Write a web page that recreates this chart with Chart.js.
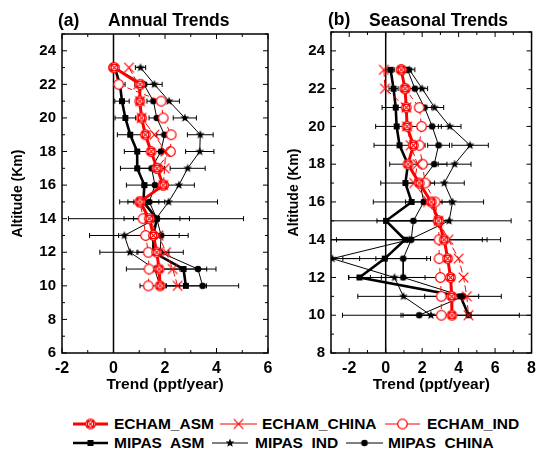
<!DOCTYPE html>
<html><head><meta charset="utf-8">
<script src="https://cdn.jsdelivr.net/npm/chart.js@4/dist/chart.umd.min.js"></script>
<style>
html,body{margin:0;padding:0;background:#fff;}
#wrap{position:relative;width:542px;height:452px;overflow:hidden;font-family:"Liberation Sans",Arial,sans-serif;font-weight:bold;}
.cv{position:absolute;top:0;}
.ttl{position:absolute;font-size:17.5px;font-weight:bold;white-space:pre;line-height:1;}
.lg{position:absolute;font-size:15.5px;font-weight:bold;white-space:pre;line-height:1;}
svg{position:absolute;overflow:visible;}
</style></head>
<body><div id="wrap">
<div class="cv" style="left:0;width:280px;height:400px;"><canvas id="ca"></canvas></div>
<div class="cv" style="left:280px;width:262px;height:400px;"><canvas id="cb"></canvas></div>
<div class="ttl" style="left:58px;top:12px;">(a)</div>
<div class="ttl" style="left:108px;top:12px;">Annual Trends</div>
<div class="ttl" style="left:328px;top:11px;">(b)</div>
<div class="ttl" style="left:369px;top:12px;">Seasonal Trends</div>
<div id="legend"></div>
</div>
<script>
// ---------- DATA ----------
const altitudes = [23,22,21,20,19,18,17,16,15,14,13,12,11,10];

// (a) Annual trends (ppt/year)
const annualEchamAsm   = [0.03,1.03,1.02,1.09,1.24,1.46,1.69,1.93,1.03,1.39,1.55,1.68,1.77,1.81];
const annualEchamChina = [0.60,0.96,1.03,1.09,1.59,2.02,1.99,1.93,1.09,1.39,1.75,2.04,2.30,2.49];
const annualEchamInd   = [0.00,0.20,1.85,1.93,2.24,2.21,1.69,1.93,1.03,1.15,1.25,1.35,1.38,1.35];
const annualMipasAsm   = [0.05,0.25,0.33,0.46,0.65,0.92,0.92,1.20,1.16,1.68,1.55,1.55,2.72,2.81];
const annualMipasInd   = [1.05,1.59,2.16,2.77,3.37,3.35,2.88,2.54,2.14,1.65,0.42,0.64,1.60,1.80];
const annualMipasChina = [0.05,1.18,1.55,1.68,1.98,1.84,1.48,1.61,1.39,1.68,1.85,1.81,3.28,3.46];
const annualMipasAsmErr   = [0.15,0.20,0.28,0.40,0.50,0.50,0.65,0.70,0.60,1.27,1.35,0.60,0.90,0.80];
const annualMipasIndErr   = [0.20,0.30,0.40,0.45,0.50,0.55,0.68,0.60,1.90,3.40,1.35,1.17,1.10,0.77];
const annualMipasChinaErr = [0.15,0.35,0.25,0.30,0.30,0.40,0.50,0.50,0.60,0.90,0.70,0.90,0.70,1.40];

// (b) Seasonal trends (ppt/year)
const seasonalEchamAsm   = [0.85,1.06,1.13,1.17,1.52,1.22,1.84,2.50,2.90,3.21,3.40,3.56,3.62,3.63];
const seasonalEchamChina = [-0.10,-0.04,1.13,1.17,1.37,1.74,1.56,2.32,2.90,3.44,4.00,4.27,4.45,4.54];
const seasonalEchamInd   = [0.85,1.06,1.84,1.97,1.84,2.02,2.16,2.71,2.88,2.93,2.93,3.00,3.05,3.05];
const seasonalMipasAsm   = [0.27,0.43,0.55,0.60,0.76,1.22,1.08,1.42,0.02,1.06,-0.05,-1.44,4.10,4.55];
const seasonalMipasInd   = [1.30,2.00,2.68,3.51,4.63,3.78,3.21,3.67,3.48,1.30,-2.93,0.48,0.97,2.48];
const seasonalMipasChina = [1.20,1.60,2.13,2.55,2.90,2.66,1.88,2.09,1.52,1.40,0.96,0.96,4.24,1.84];
const seasonalMipasAsmErr   = [0.20,0.25,0.75,1.15,1.40,1.00,1.35,2.10,3.50,4.50,2.30,0.60,1.00,3.60];
const seasonalMipasIndErr   = [0.30,0.30,0.50,0.62,1.00,0.90,1.10,1.70,3.40,4.00,1.50,2.50,2.50,4.85];
const seasonalMipasChinaErr = [0.20,0.30,0.40,0.50,0.60,0.70,0.80,1.00,2.00,4.90,1.50,1.20,2.10,1.00];

// Tick labels
const xTicksA = [-2,0,2,4,6];
const yTicksA = [6,8,10,12,14,16,18,20,22,24];
const xTicksB = [-2,0,2,4,6,8];
const yTicksB = [8,10,12,14,16,18,20,22,24];

const seriesNames = ['ECHAM_ASM','ECHAM_CHINA','ECHAM_IND','MIPAS  ASM','MIPAS  IND','MIPAS  CHINA'];

// ---------- MARKERS ----------
const RED = '#ff0000';
function mk(size, draw){
  const c = document.createElement('canvas'); c.width = size; c.height = size;
  const g = c.getContext('2d'); draw(g, size/2); return c;
}
const mAsmEcham = mk(13,(g,h)=>{g.strokeStyle=RED;g.fillStyle='#fff';g.lineWidth=1.2;
  g.beginPath();g.arc(h,h,4.8,0,Math.PI*2);g.fill();g.stroke();
  g.strokeRect(h-3.1,h-3.1,6.2,6.2);
  g.beginPath();g.moveTo(h-3.1,h-3.1);g.lineTo(h+3.1,h+3.1);g.moveTo(h+3.1,h-3.1);g.lineTo(h-3.1,h+3.1);g.stroke();});
const mChinaEcham = mk(13,(g,h)=>{g.strokeStyle=RED;g.lineWidth=1.2;
  g.beginPath();g.moveTo(h-4.8,h-4.8);g.lineTo(h+4.8,h+4.8);g.moveTo(h+4.8,h-4.8);g.lineTo(h-4.8,h+4.8);g.stroke();});
const mIndEcham = mk(13,(g,h)=>{g.strokeStyle=RED;g.fillStyle='#fff';g.lineWidth=1.2;
  g.beginPath();g.arc(h,h,4.8,0,Math.PI*2);g.fill();g.stroke();});
const mAsmMipas = mk(8,(g,h)=>{g.fillStyle='#000';g.fillRect(h-3,h-3,6,6);});
const mIndMipas = mk(12,(g,h)=>{g.fillStyle='#000';g.beginPath();
  for(let i=0;i<10;i++){const r=i%2?2:4.6;const a=-Math.PI/2+i*Math.PI/5;g.lineTo(h+r*Math.cos(a),h+r*Math.sin(a));}
  g.closePath();g.fill();});
const mChinaMipas = mk(8,(g,h)=>{g.fillStyle='#000';g.beginPath();g.arc(h,h,3.3,0,Math.PI*2);g.fill();});

const styles = [
  {color:RED, width:3, dash:[], marker:mAsmEcham},
  {color:RED, width:1, dash:[7,3], marker:mChinaEcham},
  {color:RED, width:1, dash:[5,4], marker:mIndEcham},
  {color:'#000', width:2.6, dash:[], marker:mAsmMipas},
  {color:'#000', width:1, dash:[], marker:mIndMipas},
  {color:'#000', width:1, dash:[], marker:mChinaMipas},
];

function pts(vals, errs){
  return vals.map((v,i)=>({x:v, y:altitudes[i], err: errs ? errs[i] : null}));
}
function mkDatasets(arrs, errs){
  return arrs.map((a,k)=>({
    label: seriesNames[k],
    data: pts(a, errs[k]),
    showLine: true,
    borderColor: styles[k].color,
    borderWidth: styles[k].width,
    borderDash: styles[k].dash,
    pointStyle: styles[k].marker,
    pointRadius: 5,
    pointHoverRadius: 5,
    tension: 0,
    fill: false,
  }));
}

// ---------- PLUGINS ----------
const framePlugin = {
  id:'frame',
  beforeDatasetsDraw(chart){
    const {ctx, chartArea:a, scales:{x,y}} = chart;
    ctx.save();
    ctx.beginPath(); ctx.rect(a.left,a.top,a.right-a.left,a.bottom-a.top); ctx.clip();
    // zero line
    ctx.strokeStyle='#000'; ctx.lineWidth=1.5;
    const x0 = x.getPixelForValue(0);
    ctx.beginPath(); ctx.moveTo(x0,a.top); ctx.lineTo(x0,a.bottom); ctx.stroke();
    // error bars
    ctx.lineWidth=1;
    chart.data.datasets.forEach(ds=>{
      ds.data.forEach(p=>{
        if(p.err==null) return;
        const yy = y.getPixelForValue(p.y);
        const xl = x.getPixelForValue(p.x-p.err), xr = x.getPixelForValue(p.x+p.err);
        ctx.beginPath(); ctx.moveTo(xl,yy); ctx.lineTo(xr,yy);
        ctx.moveTo(xl,yy-2.5); ctx.lineTo(xl,yy+2.5);
        ctx.moveTo(xr,yy-2.5); ctx.lineTo(xr,yy+2.5);
        ctx.stroke();
      });
    });
    ctx.restore();
  },
  afterDraw(chart){
    const {ctx, chartArea:a, scales:{x,y}} = chart;
    ctx.save();
    ctx.strokeStyle='#000'; ctx.lineWidth=1.5;
    ctx.strokeRect(a.left,a.top,a.right-a.left,a.bottom-a.top);
    ctx.lineWidth=1;
    ctx.beginPath();
    for(let v=Math.ceil(x.min); v<=x.max; v++){
      const px = x.getPixelForValue(v), L = (v%2===0)?5:3;
      ctx.moveTo(px,a.bottom); ctx.lineTo(px,a.bottom-L);
      ctx.moveTo(px,a.top); ctx.lineTo(px,a.top+L);
    }
    for(let v=Math.ceil(y.min); v<=y.max; v++){
      const py = y.getPixelForValue(v), L = (v%2===0)?5:3;
      ctx.moveTo(a.left,py); ctx.lineTo(a.left+L,py);
      ctx.moveTo(a.right,py); ctx.lineTo(a.right-L,py);
    }
    ctx.stroke();
    ctx.restore();
  }
};

const FONT = '"Liberation Sans", Arial, sans-serif';
function makeChart(id, arrs, errs, xr, yr, xt, yt, yAxisW, padRight, padTop, yTitlePad){
  return new Chart(document.getElementById(id), {
    type:'scatter',
    data:{datasets: mkDatasets(arrs, errs)},
    options:{
      responsive:true, maintainAspectRatio:false, animation:false,
      layout:{padding:{left:0,right:padRight,top:padTop,bottom:0}},
      plugins:{legend:{display:false}, tooltip:{enabled:false}},
      scales:{
        x:{type:'linear', min:xr[0], max:xr[1],
          afterBuildTicks:s=>{s.ticks = xt.map(v=>({value:v}));},
          afterFit:s=>{s.height = 47;},
          grid:{display:false, drawTicks:false}, border:{display:false},
          ticks:{color:'#000', padding:6, font:{family:FONT, size:16, weight:'bold'}, maxRotation:0},
          title:{display:true, text:'Trend (ppt/year)', color:'#000', padding:{top:0,bottom:6}, font:{family:FONT,size:15.5,weight:'bold'}}
        },
        y:{type:'linear', min:yr[0], max:yr[1],
          afterBuildTicks:s=>{s.ticks = yt.map(v=>({value:v}));},
          afterFit:s=>{s.width = yAxisW;},
          grid:{display:false, drawTicks:false}, border:{display:false},
          ticks:{color:'#000', padding:6, font:{family:FONT, size:15, weight:'bold'}},
          title:{display:true, text:'Altitude (Km)', color:'#000', padding:{top:yTitlePad,bottom:0}, font:{family:FONT,size:14,weight:'bold'}}
        }
      }
    },
    plugins:[framePlugin]
  });
}

makeChart('ca',
  [annualEchamAsm,annualEchamChina,annualEchamInd,annualMipasAsm,annualMipasInd,annualMipasChina],
  [null,null,null,annualMipasAsmErr,annualMipasIndErr,annualMipasChinaErr],
  [-2,6],[6,25],xTicksA,yTicksA,62,12,34,10);
makeChart('cb',
  [seasonalEchamAsm,seasonalEchamChina,seasonalEchamInd,seasonalMipasAsm,seasonalMipasInd,seasonalMipasChina],
  [null,null,null,seasonalMipasAsmErr,seasonalMipasIndErr,seasonalMipasChinaErr],
  [-3,8],[8,25],xTicksB,yTicksB,51,5,32,5.5);

// ---------- LEGEND ----------
const legendPos = [
  {line:[73,108], text:114, y:424},
  {line:[220,257], text:262, y:424},
  {line:[385,420], text:427, y:424},
  {line:[73,108], text:114, y:443},
  {line:[212,248], text:255, y:443},
  {line:[346,383], text:388, y:443},
];
const lg = document.getElementById('legend');
legendPos.forEach((p,k)=>{
  const st = styles[k];
  const w = p.line[1]-p.line[0];
  const svgNS='http://www.w3.org/2000/svg';
  const s = document.createElementNS(svgNS,'svg');
  s.setAttribute('width',w); s.setAttribute('height',14);
  s.style.left = p.line[0]+'px'; s.style.top = (p.y-7)+'px';
  const ln = document.createElementNS(svgNS,'line');
  ln.setAttribute('x1',0); ln.setAttribute('x2',w); ln.setAttribute('y1',7); ln.setAttribute('y2',7);
  ln.setAttribute('stroke',st.color); ln.setAttribute('stroke-width',st.width);
  s.appendChild(ln);
  const im = document.createElementNS(svgNS,'image');
  const mw = st.marker.width;
  im.setAttribute('href', st.marker.toDataURL());
  im.setAttribute('x', w/2-mw/2); im.setAttribute('y', 7-mw/2);
  im.setAttribute('width', mw); im.setAttribute('height', mw);
  s.appendChild(im);
  lg.appendChild(s);
  const t = document.createElement('div');
  t.className='lg'; t.textContent = seriesNames[k];
  t.style.left = p.text+'px'; t.style.top = (p.y-8)+'px';
  lg.appendChild(t);
});
</script>
</body></html>
